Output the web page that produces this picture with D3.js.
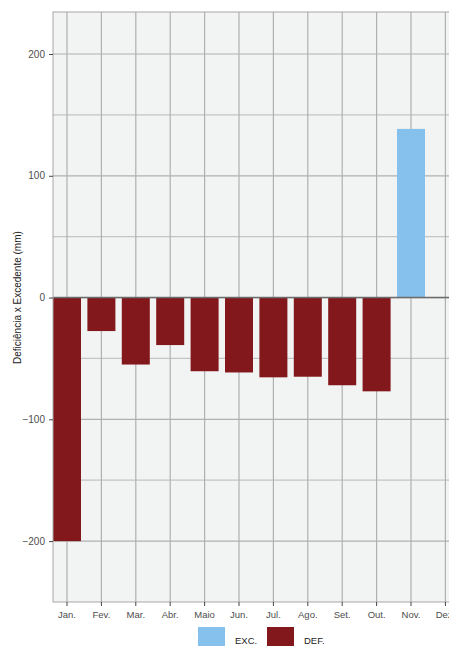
<!DOCTYPE html>
<html><head><meta charset="utf-8">
<script src="https://cdn.jsdelivr.net/npm/d3@7"></script>
<style>body{margin:0;background:#fff;}svg{display:block;font-family:"Liberation Sans",Arial,sans-serif;}</style>
</head><body>
<svg id="c" width="449" height="646"></svg>
<script>
const months = ["Jan.","Fev.","Mar.","Abr.","Maio","Jun.","Jul.","Ago.","Set.","Out.","Nov.","Dez."];
const excValues = [0,0,0,0,0,0,0,0,0,0,138.5,0];
const defValues = [-200,-27.5,-55,-39,-60.5,-61.5,-65.5,-65,-72,-77,0,0];
const yTicks = [-200,-100,0,100,200];
const yMinor = [-150,-50,50,150];
const legendLabels = ["EXC.","DEF."];
const colors = {exc:"#85c1ec", def:"#82181b"};

const svg = d3.select("#c");
const L = 53, T = 12, B = 602;
const step = 34.4, bw = 28;
const R = L + 11*step + bw + 4;
const x = d3.scaleBand().domain(months).range([L, L + 11*step + bw]).paddingInner(1 - bw/step).paddingOuter(0);
const y = d3.scaleLinear().domain([-250, 234.5]).range([B, T]);

svg.append("rect").attr("x",L).attr("y",T).attr("width",R-L).attr("height",B-T).attr("fill","#f2f3f3");

// minor gridlines
svg.append("g").selectAll("line").data(yMinor).join("line")
  .attr("x1",L).attr("x2",R).attr("y1",d=>y(d)).attr("y2",d=>y(d))
  .attr("stroke","#c4c4c4").attr("stroke-width",1.2);
// major gridlines
svg.append("g").selectAll("line").data(yTicks).join("line")
  .attr("x1",L).attr("x2",R).attr("y1",d=>y(d)).attr("y2",d=>y(d))
  .attr("stroke","#b0b0b0").attr("stroke-width",1.2);
svg.append("g").selectAll("line").data(months).join("line")
  .attr("x1",d=>x(d)+x.bandwidth()/2).attr("x2",d=>x(d)+x.bandwidth()/2)
  .attr("y1",T).attr("y2",B)
  .attr("stroke","#b0b0b0").attr("stroke-width",1.2);

// bars
svg.append("g").selectAll("rect").data(months.map((m,i)=>({m,v:defValues[i]})).filter(d=>d.v!==0)).join("rect")
  .attr("x",d=>x(d.m)).attr("width",x.bandwidth())
  .attr("y",y(0)).attr("height",d=>y(d.v)-y(0)).attr("fill",colors.def);
svg.append("g").selectAll("rect").data(months.map((m,i)=>({m,v:excValues[i]})).filter(d=>d.v!==0)).join("rect")
  .attr("x",d=>x(d.m)).attr("width",x.bandwidth())
  .attr("y",d=>y(d.v)).attr("height",d=>y(0)-y(d.v)).attr("fill",colors.exc);

// zero line
svg.append("line").attr("x1",L).attr("x2",R).attr("y1",y(0)).attr("y2",y(0))
  .attr("stroke","#6b6b6b").attr("stroke-width",1.5);

// border
svg.append("rect").attr("x",L).attr("y",T).attr("width",R-L).attr("height",B-T)
  .attr("fill","none").attr("stroke","#a8a8a8").attr("stroke-width",1);

// axes
const yAxis = d3.axisLeft(y).tickValues(yTicks).tickSize(4).tickPadding(4);
const gy = svg.append("g").attr("transform",`translate(${L},0)`).call(yAxis);
gy.select(".domain").remove();
gy.selectAll(".tick line").attr("stroke","#444");
gy.selectAll(".tick text").attr("fill","#4d4d4d").style("font-size","10px").style("font-family","Liberation Sans, Arial, sans-serif");

const xAxis = d3.axisBottom(x).tickSize(4).tickPadding(5);
const gx = svg.append("g").attr("transform",`translate(0,${B})`).call(xAxis);
gx.select(".domain").remove();
gx.selectAll(".tick line").attr("stroke","#444");
gx.selectAll(".tick text").attr("fill","#4d4d4d").style("font-size","9.5px").style("font-family","Liberation Sans, Arial, sans-serif");

svg.append("text").attr("transform",`translate(20.5,${y(0)}) rotate(-90)`)
  .attr("text-anchor","middle").attr("fill","#222").style("font-size","10px")
  .text("Deficiência x Excedente (mm)");

// legend
const lg = svg.append("g");
const legendData = [{t:legendLabels[0],c:colors.exc,x:198},{t:legendLabels[1],c:colors.def,x:267}];
lg.selectAll("rect").data(legendData).join("rect")
  .attr("x",d=>d.x).attr("y",627).attr("width",27).attr("height",20).attr("fill",d=>d.c);
lg.selectAll("text").data(legendData).join("text")
  .attr("x",d=>d.x+37).attr("y",644).attr("fill","#222").style("font-size","9.5px").text(d=>d.t);
</script>
</body></html>
